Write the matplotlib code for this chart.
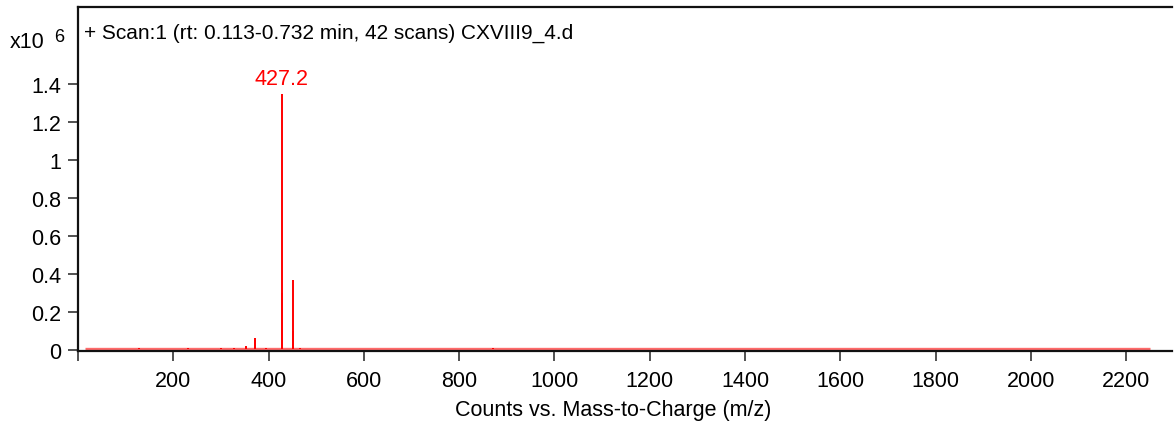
import matplotlib
matplotlib.use("Agg")
import matplotlib.pyplot as plt

plt.rcParams['font.family'] = ['Liberation Sans', 'DejaVu Sans']

# Spectrum data (m/z, counts in units of 1e6)
peak_mz = [128.7, 230.1, 300.2, 327.1, 352.0, 353.0, 371.5, 372.5, 395.0,
           427.2, 428.2, 450.6, 451.6, 465.0, 870.0, 871.5]
peak_int = [0.010, 0.010, 0.008, 0.007, 0.020, 0.015, 0.062, 0.050, 0.010,
            1.350, 0.300, 0.370, 0.100, 0.010, 0.010, 0.008]
baseline_mz = [15, 2250]
baseline_int = [0.003, 0.003]

x_ticks = [0, 200, 400, 600, 800, 1000, 1200, 1400, 1600, 1800, 2000, 2200]
x_ticklabels = ['', '200', '400', '600', '800', '1000', '1200', '1400', '1600',
                '1800', '2000', '2200']
y_ticks = [0, 0.2, 0.4, 0.6, 0.8, 1.0, 1.2, 1.4]
y_ticklabels = ['0', '0.2', '0.4', '0.6', '0.8', '1', '1.2', '1.4']

title_text = "+ Scan:1 (rt: 0.113-0.732 min, 42 scans) CXVIII9_4.d"
peak_label = "427.2"
x_label = "Counts vs. Mass-to-Charge (m/z)"

FS = 15.5
W, H = 1174, 427
fig = plt.figure(figsize=(W / 100, H / 100), dpi=100)
ax = fig.add_axes([78 / W, 1 - 352 / H, (1172 - 78) / W, (352 - 8) / H])

ax.plot(baseline_mz, baseline_int, color='#ff6a6a', lw=2.4, solid_capstyle='butt')
ax.vlines(peak_mz, baseline_int[0], peak_int, color='#ff0000', lw=1.4)

ax.annotate(peak_label, xy=(427.2, 1.35), xytext=(0, 3), textcoords='offset points',
            ha='center', va='bottom', color='#ff0000', fontsize=FS)

ax.set_xlim(0, 2296)
ax.set_ylim(-0.007, 1.807)
ax.set_xticks(x_ticks)
ax.set_xticklabels(x_ticklabels)
ax.set_yticks(y_ticks)
ax.set_yticklabels(y_ticklabels)
ax.tick_params(axis='both', direction='out', length=7, width=1.2, color='#333333',
               labelsize=FS, pad=5)
ax.tick_params(axis='x', pad=7)

for side in ['left', 'top', 'bottom']:
    ax.spines[side].set_linewidth(1.6)
    ax.spines[side].set_color('#111111')
ax.spines['right'].set_visible(False)

ax.text(6 / (1172 - 78), 1 - (33 - 8) / (352 - 8), title_text, transform=ax.transAxes,
        ha='left', va='center', fontsize=15)

ax.set_xlabel(x_label, fontsize=FS, labelpad=7)
ax.xaxis.set_label_coords((613 - 78) / (1172 - 78), -(400 - 352) / (352 - 8))

fig.text(10 / W, 1 - 43 / H, "x10", ha='left', va='center', fontsize=FS)
fig.text(54 / W, 1 - 37 / H, "6", ha='left', va='center', fontsize=13)

fig.savefig("out.png", dpi=100)
